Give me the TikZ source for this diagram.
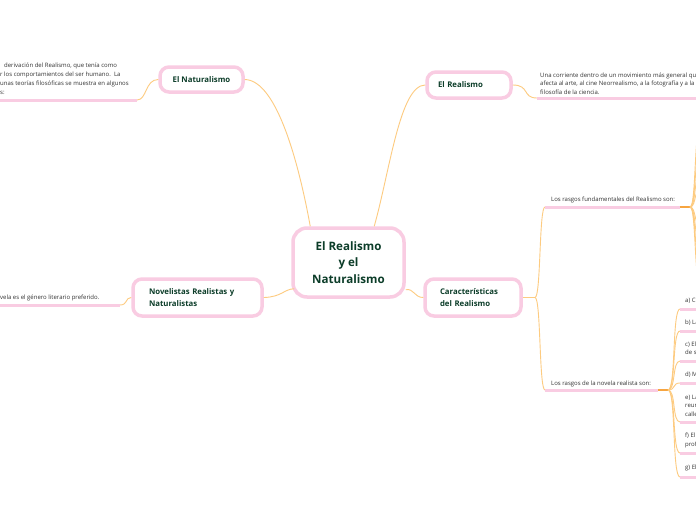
\documentclass[tikz,border=0pt]{standalone}
\usepackage{fontspec}
\setmainfont{Open Sans}
\usetikzlibrary{calc}
\definecolor{pinkb}{HTML}{F9CCE2}
\definecolor{greent}{HTML}{0C3D29}
\definecolor{orl}{HTML}{FDCB80}
\definecolor{ord}{HTML}{F7A540}
\definecolor{txt}{HTML}{333333}
\begin{document}
\begin{tikzpicture}[x=1pt,y=-1pt,
 box/.style={draw=pinkb, line width=3.5pt, rounded corners=9pt, fill=white, text=greent, font=\fontsize{7.8}{12}\selectfont\bfseries},
 small/.style={text=txt, font=\fontsize{6}{9}\selectfont, inner sep=0pt, anchor=base west},
 ul/.style={draw=pinkb, line width=3pt},
 con/.style={draw=orl, line width=0.9pt},
 thk/.style={draw=ord, line width=2pt}]
\useasboundingbox (0,0) rectangle (696,520);
\fill[white] (0,0) rectangle (696,520);
\clip (0,0) rectangle (696,520);

% main boxes
\node[box, rounded corners=14pt, minimum width=111pt, minimum height=69pt, font=\fontsize{11.6}{16.5}\selectfont\bfseries, align=center] (cen) at (348.5,262.5) {El Realismo\\y el\\Naturalismo};
\node[box, minimum width=83pt, minimum height=25pt] (nat) at (201.5,79.5) {El Naturalismo};
\node[box, text width=62pt, inner xsep=11pt, minimum height=26pt, align=left] (rea) at (469,85) {El Realismo};
\node[box, text width=97pt, inner xsep=16pt, minimum height=37pt, align=left] (nov) at (197.5,297.5) {Novelistas Realistas y\\Naturalistas};
\node[box, text width=66pt, inner xsep=15pt, minimum height=37pt, align=left] (car) at (473,297.5) {Características\\del Realismo};

% coordinates
\coordinate (cnw) at ($(cen.north west)+(19,0)$);
\coordinate (cne) at ($(cen.north west)+(83,0)$);
\coordinate (cw) at ($(cen.south west)+(3,-10)$);
\coordinate (ce) at ($(cen.south east)+(0,-9)$);
\coordinate (natu) at (137,100);
\coordinate (reau) at (537,98);
\coordinate (novu) at (120,305);
\coordinate (cb) at (535,297.5);
\coordinate (f1) at (545,207);
\coordinate (f1e) at (680,207);
\coordinate (f1b) at (690,207);
\coordinate (f2) at (545,390);
\coordinate (f2e) at (658,390);
\coordinate (f2b) at (668,390);

% connectors from centre
\draw[con] (cnw) .. controls (300,170) and (278,80) .. (nat.east);
\draw[con] (cne) .. controls (390,170) and (400,85) .. (rea.west);
\draw[con] (nov.east) .. controls (282,297) and (284,289) .. (cw);
\draw[con] (ce) .. controls (414,288) and (414,297.5) .. (car.west);

% El Naturalismo text
\draw[con] (nat.west) .. controls (145,79.5) and (147,100) .. (natu);
\draw[ul] (0,100) -- (natu);
\node[small] (n1) at (4,67) {derivaci\'on del Realismo, que ten\'ia como};
\node[small] (n2) at (0,76) {r los comportamientos del ser humano.\ \ La};
\node[small] (n3) at (0,85) {unas teorías filosóficas se muestra en algunos};
\node[small] (n4) at (0,94) {s:};

% El Realismo text
\draw[con] (rea.east) .. controls (530,85) and (522,98) .. (reau);
\draw[ul] (reau) -- (700,98);
\node[small] (r1) at (540,77) {Una corriente dentro de un movimiento más general que};
\node[small] (r2) at (540,85.5) {afecta al arte, al cine Neorrealismo, a la fotografía y a la};
\node[small] (r3) at (540,94) {filosofía de la ciencia.};

% Novelistas text
\draw[con] (nov.west) .. controls (125,297.5) and (128,305) .. (novu);
\draw[ul] (-5,305) -- (novu);
\node[small] (v1) at (0,299) {vela es el género literario preferido.};

% Caracteristicas branches
\draw[con] (car.east) -- (cb);
\draw[con] (cb) .. controls (541,297.5) and (539,207) .. (f1);
\draw[con] (cb) .. controls (541,297.5) and (539,390) .. (f2);
\draw[ul] (f1) -- (f1e);
\node[small] (t1) at (551,201) {Los rasgos fundamentales del Realismo son:};
\draw[thk] (f1e) -- (f1b);
\foreach \yy in {110,140,165,185,230,250,275,300}{
  \draw[con] (f1b) .. controls (697,207) and (693,\yy) .. (705,\yy);
}
\draw[ul] (f2) -- (f2e);
\node[small] (t2) at (551,385) {Los rasgos de la novela realista son:};
\draw[thk] (f2e) -- (f2b);
\foreach \yy in {309,331,361,383,422,453,477}{
  \draw[con] (f2b) .. controls (676,390) and (672,\yy) .. (680,\yy);
  \draw[ul] (680,\yy) -- (700,\yy);
}
\node[small] (a) at (685,302) {a) C};
\node[small] (b) at (685,324) {b) La};
\node[small] (c1) at (685,346) {c) El};
\node[small] (c2) at (685,354.5) {de s};
\node[small] (d) at (685,376) {d) M};
\node[small] (e1) at (685,399) {e) La};
\node[small] (e2) at (685,407.5) {reun};
\node[small] (e3) at (685,416) {calle};
\node[small] (f1t) at (685,437) {f) El};
\node[small] (f2t) at (685,446) {prof};
\node[small] (g) at (685,469) {g) El};
\end{tikzpicture}
\end{document}
